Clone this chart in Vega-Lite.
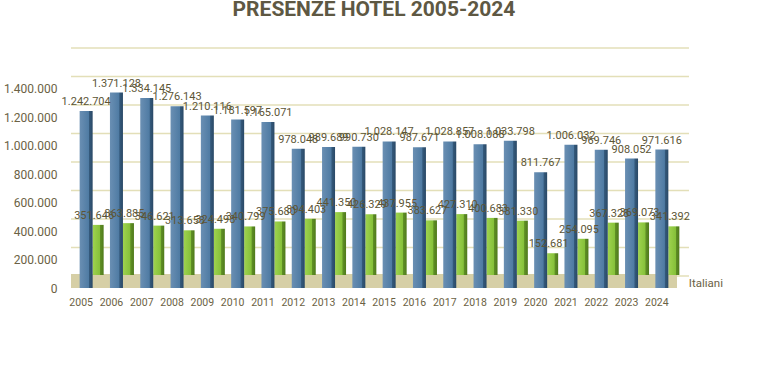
{
  "$schema": "https://vega.github.io/schema/vega-lite/v6.json",
  "width": 606,
  "height": 228,
  "autosize": "none",
  "padding": {"left": 71, "top": 60, "right": 95, "bottom": 91},
  "background": "white",
  "config": {
    "view": {"stroke": null},
    "locale": {"number": {"decimal": ",", "thousands": ".", "grouping": [3], "currency": ["", " €"]}},
    "font": "Roboto"
  },
  "title": {
    "text": "PRESENZE HOTEL 2005-2024",
    "fontSize": 21,
    "fontWeight": "bold",
    "font": "Roboto",
    "color": "#5e5843",
    "anchor": "middle",
    "baseline": "bottom",
    "frame": "group",
    "offset": 6
  },
  "datasets": {
    "presenze": [
      {"anno": "2005", "serie": "Italiani", "valore": 1242704},
      {"anno": "2006", "serie": "Italiani", "valore": 1371128},
      {"anno": "2007", "serie": "Italiani", "valore": 1334145},
      {"anno": "2008", "serie": "Italiani", "valore": 1276143},
      {"anno": "2009", "serie": "Italiani", "valore": 1210116},
      {"anno": "2010", "serie": "Italiani", "valore": 1181597},
      {"anno": "2011", "serie": "Italiani", "valore": 1165071},
      {"anno": "2012", "serie": "Italiani", "valore": 978048},
      {"anno": "2013", "serie": "Italiani", "valore": 989689},
      {"anno": "2014", "serie": "Italiani", "valore": 990730},
      {"anno": "2015", "serie": "Italiani", "valore": 1028147},
      {"anno": "2016", "serie": "Italiani", "valore": 987671},
      {"anno": "2017", "serie": "Italiani", "valore": 1028857},
      {"anno": "2018", "serie": "Italiani", "valore": 1008088},
      {"anno": "2019", "serie": "Italiani", "valore": 1033798},
      {"anno": "2020", "serie": "Italiani", "valore": 811767},
      {"anno": "2021", "serie": "Italiani", "valore": 1006032},
      {"anno": "2022", "serie": "Italiani", "valore": 969746},
      {"anno": "2023", "serie": "Italiani", "valore": 908052},
      {"anno": "2024", "serie": "Italiani", "valore": 971616},
      {"anno": "2005", "serie": "Stranieri", "valore": 351646},
      {"anno": "2006", "serie": "Stranieri", "valore": 363885},
      {"anno": "2007", "serie": "Stranieri", "valore": 346621},
      {"anno": "2008", "serie": "Stranieri", "valore": 313658},
      {"anno": "2009", "serie": "Stranieri", "valore": 324498},
      {"anno": "2010", "serie": "Stranieri", "valore": 340799},
      {"anno": "2011", "serie": "Stranieri", "valore": 375680},
      {"anno": "2012", "serie": "Stranieri", "valore": 394403},
      {"anno": "2013", "serie": "Stranieri", "valore": 441350},
      {"anno": "2014", "serie": "Stranieri", "valore": 426329},
      {"anno": "2015", "serie": "Stranieri", "valore": 437955},
      {"anno": "2016", "serie": "Stranieri", "valore": 383627},
      {"anno": "2017", "serie": "Stranieri", "valore": 427310},
      {"anno": "2018", "serie": "Stranieri", "valore": 400683},
      {"anno": "2019", "serie": "Stranieri", "valore": 381330},
      {"anno": "2020", "serie": "Stranieri", "valore": 152681},
      {"anno": "2021", "serie": "Stranieri", "valore": 254095},
      {"anno": "2022", "serie": "Stranieri", "valore": 367328},
      {"anno": "2023", "serie": "Stranieri", "valore": 369073},
      {"anno": "2024", "serie": "Stranieri", "valore": 341392}
    ],
    "griglia": [
      {"valore": 0}, {"valore": 200000}, {"valore": 400000}, {"valore": 600000},
      {"valore": 800000}, {"valore": 1000000}, {"valore": 1200000}, {"valore": 1400000}, {"valore": 1600000}
    ]
  },
  "data": {"name": "presenze"},
  "encoding": {
    "x": {
      "field": "anno",
      "type": "ordinal",
      "scale": {"paddingInner": 0, "paddingOuter": 0},
      "axis": {
        "title": null,
        "labelAngle": 0,
        "domain": false,
        "ticks": false,
        "labelPadding": 9,
        "labelOffset": -5,
        "labelFontSize": 10.5,
        "labelColor": "#6b6244"
      }
    },
    "y": {
      "field": "valore",
      "type": "quantitative",
      "scale": {"domain": [0, 1600000], "nice": false},
      "axis": {
        "title": null,
        "values": [0, 200000, 400000, 600000, 800000, 1000000, 1200000, 1400000],
        "format": ",d",
        "grid": false,
        "domain": false,
        "ticks": false,
        "labelOverlap": false,
        "labelPadding": 14,
        "labelFontSize": 12,
        "labelColor": "#6b6244"
      }
    }
  },
  "layer": [
    {
      "data": {"name": "griglia"},
      "mark": {"type": "rule", "color": "#e3dfb8", "strokeWidth": 1.5, "xOffset": 12, "yOffset": -12},
      "encoding": {"x": null}
    },
    {
      "data": {"values": [{"valore": 0}]},
      "mark": {"type": "rect", "color": "#d6cfa6", "yOffset": -14, "y2Offset": 0},
      "encoding": {
        "x": null,
        "y2": {"field": "valore"}
      }
    },
    {
      "transform": [{"filter": "datum.serie == 'Stranieri'"}],
      "mark": {
        "type": "bar",
        "width": 11,
        "xOffset": 12,
        "yOffset": -13,
        "color": {"gradient": "linear", "x1": 0, "x2": 1, "y1": 0, "y2": 0,
          "stops": [{"offset": 0, "color": "#9fd34f"}, {"offset": 0.65, "color": "#86c13a"}, {"offset": 0.7, "color": "#5f8f25"}, {"offset": 1, "color": "#4f7a1c"}]}
      }
    },
    {
      "transform": [{"filter": "datum.serie == 'Italiani'"}],
      "mark": {
        "type": "bar",
        "width": 13,
        "color": {"gradient": "linear", "x1": 0, "x2": 1, "y1": 0, "y2": 0,
          "stops": [{"offset": 0, "color": "#6a8fb3"}, {"offset": 0.7, "color": "#4f7ba3"}, {"offset": 0.75, "color": "#34597b"}, {"offset": 1, "color": "#2a4966"}]}
      }
    },
    {
      "transform": [{"filter": "datum.serie == 'Stranieri'"}],
      "mark": {"type": "text", "fontSize": 11, "color": "#5c5536", "baseline": "bottom", "xOffset": 8, "yOffset": -17},
      "encoding": {
        "text": {"field": "valore", "type": "quantitative", "format": ",d"}
      }
    },
    {
      "transform": [{"filter": "datum.serie == 'Italiani'"}],
      "mark": {"type": "text", "fontSize": 11, "color": "#5c5536", "baseline": "bottom", "yOffset": -4},
      "encoding": {
        "text": {"field": "valore", "type": "quantitative", "format": ",d"}
      }
    },
    {
      "data": {"values": [{"etichetta": "Italiani", "anno": "2024", "valore": 0}]},
      "mark": {"type": "text", "fontSize": 11.5, "color": "#6b6244", "align": "left", "baseline": "middle", "dx": 27, "dy": -4},
      "encoding": {
        "text": {"field": "etichetta"}
      }
    }
  ]
}
